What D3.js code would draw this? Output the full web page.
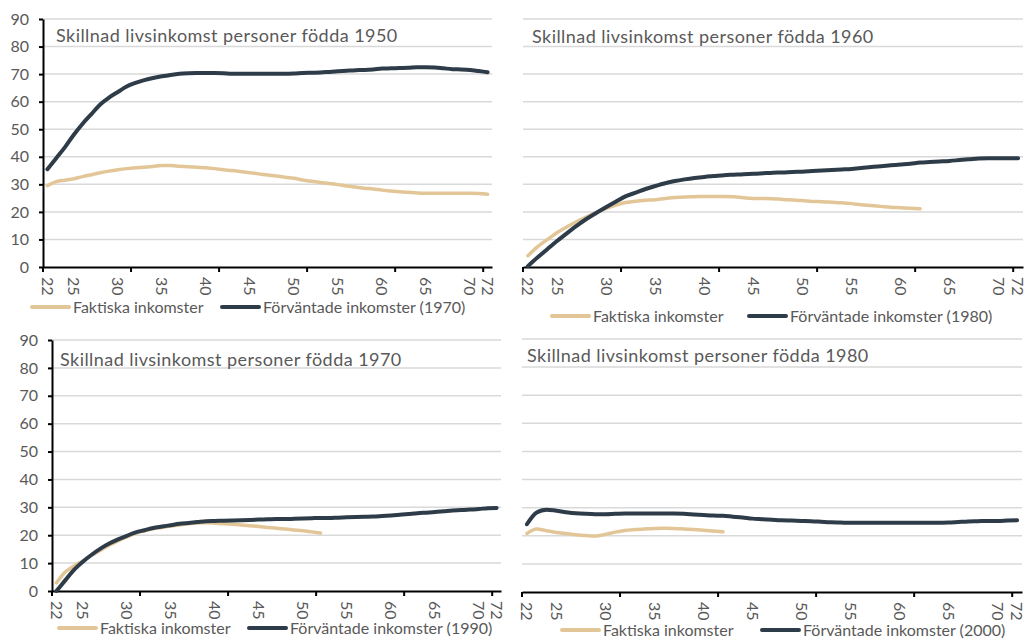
<!DOCTYPE html>
<html>
<head>
<meta charset="utf-8">
<script src="https://cdnjs.cloudflare.com/ajax/libs/d3/7.8.5/d3.min.js"></script>
<style>
body{margin:0;background:#fff;}
svg{display:block;font-family:Lato,'Open Sans',sans-serif;}
</style>
</head>
<body>
<div id="chart"></div>
<script>
//categories: age 22..72
var ages = d3.range(22,73);
var ageLabels = [22,25,30,35,40,45,50,55,60,65,70,72];
var ageTicks = [22,32,42,52,62,72];
var yTicks = [0,10,20,30,40,50,60,70,80,90];

var titles = ['Skillnad livsinkomst personer födda 1950','Skillnad livsinkomst personer födda 1960',
	'Skillnad livsinkomst personer födda 1970','Skillnad livsinkomst personer födda 1980'];
var legendActual = 'Faktiska inkomster';
var legendExpected = ['Förväntade inkomster (1970)','Förväntade inkomster (1980)',
	'Förväntade inkomster (1990)','Förväntade inkomster (2000)'];

//faktiska inkomster, by age from 22
var actual1950 = [29.5,31,31.5,32,32.8,33.5,34.2,34.8,35.3,35.7,36,36.2,36.5,36.8,36.8,36.6,36.4,36.2,36,35.7,
	35.3,35,34.6,34.2,33.8,33.4,33,32.6,32.2,31.6,31.1,30.7,30.3,29.9,29.4,29,28.6,28.3,27.9,27.6,
	27.3,27.1,26.9,26.8,26.8,26.8,26.8,26.8,26.8,26.7,26.4];
var actual1960 = [4.1,7.4,10,12.5,14.6,16.5,18.2,19.8,21.3,22.5,23.4,23.9,24.2,24.4,24.9,25.2,25.4,25.5,25.6,25.6,
	25.6,25.5,25.1,24.9,24.9,24.8,24.5,24.3,24.1,23.8,23.7,23.5,23.3,23,22.6,22.3,22,21.7,21.5,21.3,21.1];
var actual1970 = [2.9,6.8,9,10.8,12.8,14.6,16.4,18,19.4,20.7,21.6,22.3,22.8,23.3,23.7,24.1,24.4,24.5,24.3,24.1,
	23.9,23.7,23.4,23.1,22.8,22.5,22.2,21.9,21.6,21.2,20.8];
var actual1980 = [20.8,22.4,21.8,21.2,20.8,20.4,20.1,19.9,20.5,21.3,21.9,22.2,22.4,22.6,22.7,22.6,22.4,22.2,22,21.7,21.4];

//förväntade inkomster, by age from 22
var expected1970 = [35.5,39.5,43.5,48,52,55.5,59,61.5,63.5,65.5,66.8,67.8,68.6,69.2,69.7,70.1,70.3,70.4,70.4,70.4,
	70.3,70.1,70.1,70.1,70.1,70.1,70.1,70.1,70.2,70.4,70.5,70.6,70.8,71,71.2,71.4,71.5,71.7,72,72.1,
	72.2,72.3,72.5,72.5,72.4,72.1,71.8,71.7,71.5,71.1,70.7];
var expected1980 = [0.3,3.5,6.5,9.5,12.3,15,17.5,19.7,21.8,23.8,25.7,27,28.3,29.4,30.4,31.2,31.8,32.3,32.7,33,
	33.3,33.5,33.7,33.8,34,34.2,34.3,34.5,34.6,34.8,35,35.2,35.4,35.6,35.9,36.3,36.6,36.9,37.2,37.5,
	37.9,38.1,38.3,38.5,38.8,39.1,39.4,39.5,39.5,39.5,39.5];
var expected1990 = [0,3.8,7.6,10.5,13,15.2,17,18.5,19.8,21,21.8,22.6,23.1,23.6,24.1,24.4,24.7,25,25.1,25.2,
	25.3,25.4,25.5,25.6,25.7,25.8,25.8,25.9,26,26.1,26.2,26.2,26.3,26.4,26.5,26.6,26.7,26.9,27.1,27.3,
	27.6,27.9,28.1,28.3,28.6,28.9,29,29.2,29.4,29.7,29.8];
var expected2000 = [24.1,28.3,29.3,28.9,28.4,28,27.8,27.7,27.7,27.8,27.9,27.9,27.9,27.9,27.9,27.9,27.8,27.6,27.4,27.2,
	27.1,26.8,26.5,26.1,25.9,25.7,25.5,25.4,25.3,25.2,25,24.8,24.7,24.6,24.6,24.6,24.6,24.6,24.6,24.6,
	24.6,24.6,24.6,24.7,24.9,25.1,25.2,25.3,25.3,25.4,25.5];

var actual = [actual1950,actual1960,actual1970,actual1980],
	expected = [expected1970,expected1980,expected1990,expected2000];

//panel layout (pixels)
var panels = [
	{l:43,r:492,t:19,b:267,yAxis:true,tx:56,ty:42,lx1:30,lx2:220,ly:307},
	{l:523,r:1023,t:19,b:267,yAxis:false,tx:532,ty:43,lx1:550,lx2:747,ly:316},
	{l:52,r:501,t:340,b:591,yAxis:true,tx:60,ty:366,lx1:57,lx2:247,ly:628},
	{l:522,r:1022,t:339,b:592,yAxis:false,tx:527,ty:362,lx1:560,lx2:760,ly:630}
];

var colActual = '#e3c697',
	colExpected = '#2e3c49',
	colText = '#595959';

var W = 1025, H = 639;
var svg = d3.select('#chart').append('svg')
	.attr('width',W).attr('height',H);

panels.forEach(function(p,k){
	var g = svg.append('g');

	var x = d3.scaleBand().domain(ages).range([p.l,p.r]).padding(0),
		y = d3.scaleLinear().domain([0,90]).range([p.b,p.t]);

	//gridlines
	g.selectAll('.grid').data(yTicks.slice(1)).enter().append('line')
		.attr('x1',p.l).attr('x2',p.r)
		.attr('y1',function(d){return y(d)}).attr('y2',function(d){return y(d)})
		.style('stroke','#d9d9d9').style('stroke-width','1.5px');

	//title
	g.append('text').attr('x',p.tx).attr('y',p.ty)
		.text(titles[k])
		.style('font-size','18px').style('letter-spacing','0.45px').style('fill',colText);

	//x axis: labels at band centres, ticks at band edges
	var xAxis = g.append('g')
		.attr('transform','translate(0,'+p.b+')')
		.call(d3.axisBottom(x).tickValues(ageLabels).tickSize(0).tickSizeOuter(0));
	xAxis.select('.domain').style('stroke','#000').style('stroke-width','2px');
	xAxis.selectAll('text')
		.attr('transform','rotate(90)')
		.attr('x',10).attr('y',0).attr('dy','0.35em')
		.style('text-anchor','start')
		.style('font-size','16px').style('font-family','Lato').style('fill',colText);
	xAxis.selectAll('.edge').data(ageTicks).enter().append('line')
		.attr('x1',function(d){return x(d)}).attr('x2',function(d){return x(d)})
		.attr('y1',0).attr('y2',5)
		.style('stroke','#000').style('stroke-width','2px');

	//y axis on left panels
	if(p.yAxis){
		var yAxis = g.append('g')
			.attr('transform','translate('+p.l+',0)')
			.call(d3.axisLeft(y).tickValues(yTicks).tickSize(4).tickSizeOuter(0).tickPadding(10));
		yAxis.select('.domain').style('stroke','#000').style('stroke-width','2px');
		yAxis.selectAll('.tick line').style('stroke','#000').style('stroke-width','2px');
		yAxis.selectAll('text')
			.style('font-size','16px').style('font-family','Lato').style('fill',colText);
	}

	var line = d3.line()
		.x(function(d,i){return x(ages[i])+x.bandwidth()/2})
		.y(function(d){return y(d)})
		.curve(d3.curveMonotoneX);

	g.append('path').datum(actual[k])
		.attr('d',line)
		.style('fill','none').style('stroke',colActual).style('stroke-width','3.5px')
		.style('stroke-linejoin','round').style('stroke-linecap','round');
	g.append('path').datum(expected[k])
		.attr('d',line)
		.style('fill','none').style('stroke',colExpected).style('stroke-width','4px')
		.style('stroke-linejoin','round').style('stroke-linecap','round');

	//legend
	var leg = [{x:p.lx1,c:colActual,t:legendActual},{x:p.lx2,c:colExpected,t:legendExpected[k]}];
	leg.forEach(function(e){
		g.append('line')
			.attr('x1',e.x+2).attr('x2',e.x+39)
			.attr('y1',p.ly).attr('y2',p.ly)
			.style('stroke',e.c).style('stroke-width','4px').style('stroke-linecap','round');
		g.append('text')
			.attr('x',e.x+43).attr('y',p.ly).attr('dy','0.35em')
			.text(e.t)
			.style('font-size','16px').style('fill',colText);
	});
});
</script>
</body>
</html>
